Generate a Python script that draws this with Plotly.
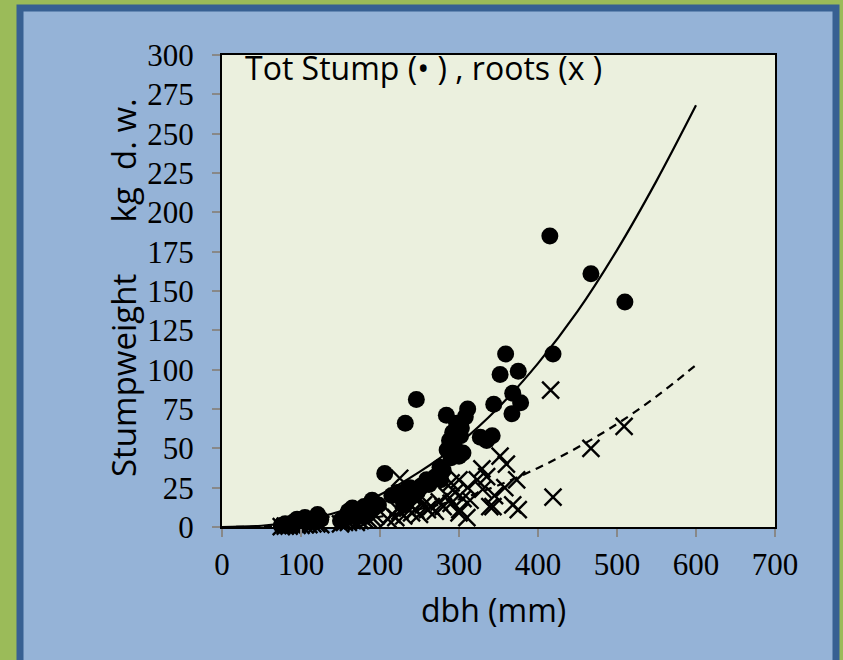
import plotly.graph_objects as go

# Total stump weight (dots): dbh (mm), weight (kg d.w.)
stump_dbh = [75, 80, 85, 90, 95, 100, 105, 110, 115, 120, 125, 95, 105, 121,
             150, 155, 160, 165, 170, 175, 180, 185, 190, 198, 160, 175,
             206,
             215, 222, 228, 232, 235, 238, 242, 246, 247, 252, 259, 262, 230,
             270, 273, 276, 277, 280, 284, 285, 288, 292, 295, 297, 300, 302, 303, 305, 308, 311, 290,
             327, 335, 342, 344, 352, 359, 367, 368, 375, 378,
             415, 419, 467, 510]
stump_w = [1, 2, 1, 3, 2, 4, 3, 5, 4, 6, 5, 5, 6, 8,
           4, 6, 10, 12, 8, 11, 13, 10, 17, 14, 6, 7,
           34,
           20, 22, 18, 66, 24, 25, 20, 81, 22, 26, 30, 27, 14,
           32, 31, 38, 30, 36, 71, 49, 55, 60, 50, 66, 45, 58, 63, 47, 70, 75, 44,
           57, 55, 58, 78, 97, 110, 72, 85, 99, 79,
           185, 110, 161, 143]

# Roots (x markers)
root_dbh = [75, 80, 85, 90, 95, 100, 105, 110, 115, 120, 125,
            150, 155, 160, 165, 170, 175, 180, 185, 190, 195,
            210, 215, 220, 225, 230, 235, 240, 245, 250, 255, 260, 225, 240, 250,
            265, 270, 275, 280, 285, 290, 295, 300, 301, 305, 310, 311, 314, 300, 290,
            323, 329, 335, 339, 343, 352, 358, 360, 368, 373, 375, 345, 330,
            416, 419, 467, 509]
root_w = [0.3, 0.5, 0.5, 0.8, 1, 1, 1.5, 1.5, 2, 2, 1.5,
          2, 3, 3, 4, 3, 4, 5, 5, 6, 7,
          5, 8, 6, 10, 7, 12, 9, 11, 8, 14, 11, 31, 20, 18,
          13, 10, 16, 13, 20, 15, 22, 9, 11, 18, 6, 25, 17, 30, 28,
          30, 37, 32, 13, 13, 45, 25, 40, 14, 30, 11, 20, 24,
          87, 19, 50, 64]

# Fitted curves
curve_dbh = [0, 50, 100, 150, 200, 250, 300, 350, 400, 450, 500, 550, 600]
stump_fit = [0, 0.8, 4.1, 10, 20.5, 35, 53, 76, 104, 137, 176, 220, 268]
root_fit = [0, 0.2, 1.2, 3.1, 6.5, 11.4, 17.6, 26.6, 37.5, 50.5, 65.5, 83, 103]

x_ticks = [0, 100, 200, 300, 400, 500, 600, 700]
y_ticks = [0, 25, 50, 75, 100, 125, 150, 175, 200, 225, 250, 275, 300]

fig = go.Figure()
fig.add_trace(go.Scatter(x=root_dbh, y=root_w, mode="markers", cliponaxis=False,
                         marker=dict(symbol="x-thin", size=17, color="black",
                                     line=dict(color="black", width=2.4))))
fig.add_trace(go.Scatter(x=stump_dbh, y=stump_w, mode="markers", cliponaxis=False,
                         marker=dict(symbol="circle", size=17, color="black",
                                     line=dict(width=0))))
fig.add_trace(go.Scatter(x=curve_dbh, y=stump_fit, mode="lines",
                         line=dict(color="black", width=2.2, shape="spline")))
fig.add_trace(go.Scatter(x=curve_dbh, y=root_fit, mode="lines",
                         line=dict(color="black", width=2.2, shape="spline", dash="8px,6px")))

L, R, T, B = 222, 68, 55, 133
W, H = 843, 660
pw, ph = W - L - R, H - T - B

def fx(px):
    return (px - L) / pw

def fy(py):
    return (H - B - py) / ph

shapes = [
    dict(type="rect", xref="paper", yref="paper", layer="below",
         x0=fx(20), x1=fx(836), y0=fy(700), y1=fy(8),
         fillcolor="#95B3D7", line=dict(color="#376092", width=7)),
    dict(type="rect", xref="paper", yref="paper", layer="below",
         x0=0, x1=1, y0=0, y1=1, fillcolor="#EBF0DE", line=dict(width=0)),
]

annotations = [
    dict(text="Tot Stump (\u2022 ) , roots (x )", xref="paper", yref="paper",
         x=fx(243), y=fy(67), xanchor="left", yanchor="middle", showarrow=False,
         font=dict(family="Open Sans", size=32, color="black")),
    dict(text="dbh (mm)", xref="paper", yref="paper",
         x=fx(493), y=fy(609), xanchor="center", yanchor="middle", showarrow=False,
         font=dict(family="Open Sans", size=32, color="black")),
    dict(text="Stumpweight\u00a0\u00a0\u00a0\u00a0\u00a0\u00a0kg\u00a0\u00a0d.\u00a0w.",
         xref="paper", yref="paper", textangle=-90,
         x=fx(123), y=fy(288), xanchor="center", yanchor="middle", showarrow=False,
         font=dict(family="Open Sans", size=33, color="black")),
]

fig.update_layout(
    width=W, height=H, margin=dict(l=L, r=R, t=T, b=B, pad=0),
    paper_bgcolor="#9BBB59", plot_bgcolor="rgba(0,0,0,0)",
    showlegend=False, shapes=shapes, annotations=annotations,
    font=dict(family="Liberation Serif", size=31, color="black"),
)
fig.update_xaxes(range=[0, 700], tickvals=x_ticks, ticktext=[str(v) for v in x_ticks],
                 showgrid=False, zeroline=False, showline=True, linecolor="black",
                 linewidth=2, mirror=True, ticks="outside", ticklen=8, tickwidth=1.5,
                 tickcolor="#888888", ticklabelstandoff=1,
                 tickfont=dict(family="Liberation Serif", size=31, color="black"))
fig.update_yaxes(range=[0, 300], tickvals=y_ticks, ticktext=[str(v) for v in y_ticks],
                 showgrid=False, zeroline=False, showline=True, linecolor="black",
                 linewidth=2, mirror=True, ticks="outside", ticklen=8, tickwidth=1.5,
                 tickcolor="#888888", ticklabelstandoff=12,
                 tickfont=dict(family="Liberation Serif", size=31, color="black"))

fig.write_html("out.html")
